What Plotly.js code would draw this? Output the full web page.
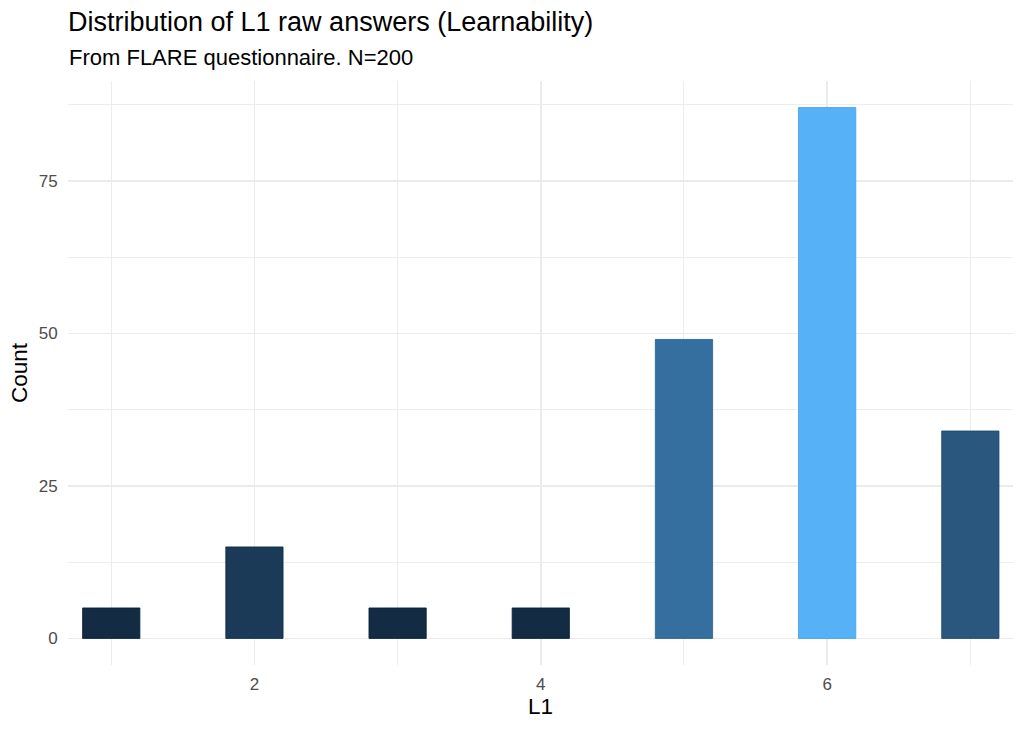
<!DOCTYPE html>
<html>
<head>
<meta charset="utf-8">
<script src="https://cdn.plot.ly/plotly-3.0.1.min.js"></script>
<style>html,body{margin:0;padding:0;background:#fff;}#chart{width:1024px;height:731px;}</style>
</head>
<body>
<div id="chart"></div>
<script>
// Data
const answers = [1, 2, 3, 4, 5, 6, 7];
const counts = [5, 15, 5, 5, 49, 87, 34];
const titleText = "Distribution of L1 raw answers (Learnability)";
const subtitleText = "From FLARE questionnaire. N=200";
const xTitle = "L1";
const yTitle = "Count";

// ggplot-like Lab gradient between low and high colours
function hexToRgb(h){h=h.replace('#','');return [0,2,4].map(i=>parseInt(h.substr(i,2),16)/255);}
function lin(c){return c<=0.04045?c/12.92:Math.pow((c+0.055)/1.055,2.4);}
function unlin(c){return c<=0.0031308?12.92*c:1.055*Math.pow(c,1/2.4)-0.055;}
const Xn=0.95047,Yn=1,Zn=1.08883;
function f(t){return t>0.008856?Math.cbrt(t):7.787*t+16/116;}
function finv(t){return t>0.206893?t*t*t:(t-16/116)/7.787;}
function toLab(hex){const [r,g,b]=hexToRgb(hex).map(lin);
  const X=0.4124*r+0.3576*g+0.1805*b,Y=0.2126*r+0.7152*g+0.0722*b,Z=0.0193*r+0.1192*g+0.9505*b;
  const fx=f(X/Xn),fy=f(Y/Yn),fz=f(Z/Zn);return [116*fy-16,500*(fx-fy),200*(fy-fz)];}
function fromLab(L,a,bb){const fy=(L+16)/116,fx=fy+a/500,fz=fy-bb/200;
  const X=Xn*finv(fx),Y=Yn*finv(fy),Z=Zn*finv(fz);
  let r=3.2406*X-1.5372*Y-0.4986*Z,g=-0.9689*X+1.8758*Y+0.0415*Z,b=0.0557*X-0.2040*Y+1.0570*Z;
  return 'rgb('+[r,g,b].map(c=>Math.round(Math.max(0,Math.min(1,unlin(c)))*255)).join(',')+')';}
function labScale(lo,hi,dL){const A=toLab(lo),B=toLab(hi),out=[];
  for(let i=0;i<=20;i++){const t=i/20;out.push([t,fromLab(A[0]+(B[0]-A[0])*t+dL,A[1]+(B[1]-A[1])*t,A[2]+(B[2]-A[2])*t)]);}
  return out;}
const fillScale = labScale('#132B43','#56B1F7',0);
const lineScale = labScale('#132B43','#56B1F7',-6);

const cmin = Math.min(...counts), cmax = Math.max(...counts);

const trace = {
  type: 'bar',
  x: answers,
  y: counts,
  width: 0.4,
  marker: {
    color: counts, colorscale: fillScale, cmin: cmin, cmax: cmax, showscale: false,
    line: {color: counts, colorscale: lineScale, cmin: cmin, cmax: cmax, width: 0.8}
  },
  hoverinfo: 'x+y'
};

const grid = '#EBEBEB';
const font = "'Liberation Sans', Arial, Helvetica, sans-serif";
const layout = {
  width: 1024, height: 731,
  margin: {l: 68, r: 11, t: 81, b: 66},
  paper_bgcolor: '#fff', plot_bgcolor: '#fff',
  font: {family: font, color: '#000'},
  showlegend: false,
  title: {text: titleText, x: 68/1024, xanchor: 'left', xref: 'container', yref: 'container', y: 1-22/731, yanchor: 'middle',
          font: {family: font, size: 27, color: '#000'}},
  annotations: [{text: subtitleText, xref: 'paper', yref: 'paper', x: 0, xanchor: 'left', xshift: -1,
                 y: 1 + (81-57)/584, yanchor: 'middle', showarrow: false,
                 font: {family: font, size: 22, color: '#000'}}],
  xaxis: {
    range: [0.698, 7.298], tick0: 0, dtick: 2, showgrid: true, gridcolor: grid, gridwidth: 1.5,
    zeroline: false, showline: false, ticks: 'outside', ticklen: 4, tickcolor: 'rgba(0,0,0,0)',
    tickfont: {size: 17, color: '#4D4D4D', family: font},
    minor: {dtick: 1, tick0: 0, showgrid: true, gridcolor: grid, gridwidth: 0.9},
    title: {text: xTitle, font: {size: 22.5, color: '#000', family: font}, standoff: 4},
    fixedrange: true
  },
  yaxis: {
    range: [-4.35, 91.35], tick0: 0, dtick: 25, showgrid: true, gridcolor: grid, gridwidth: 1.5,
    zeroline: false, showline: false, ticks: 'outside', ticklen: 6, tickcolor: 'rgba(0,0,0,0)',
    tickfont: {size: 17, color: '#4D4D4D', family: font},
    minor: {dtick: 12.5, tick0: 0, showgrid: true, gridcolor: grid, gridwidth: 0.9},
    title: {text: yTitle, font: {size: 22.5, color: '#000', family: font}, standoff: 4},
    fixedrange: true
  }
};

Plotly.newPlot('chart', [trace], layout, {displayModeBar: false, staticPlot: true});
</script>
</body>
</html>
